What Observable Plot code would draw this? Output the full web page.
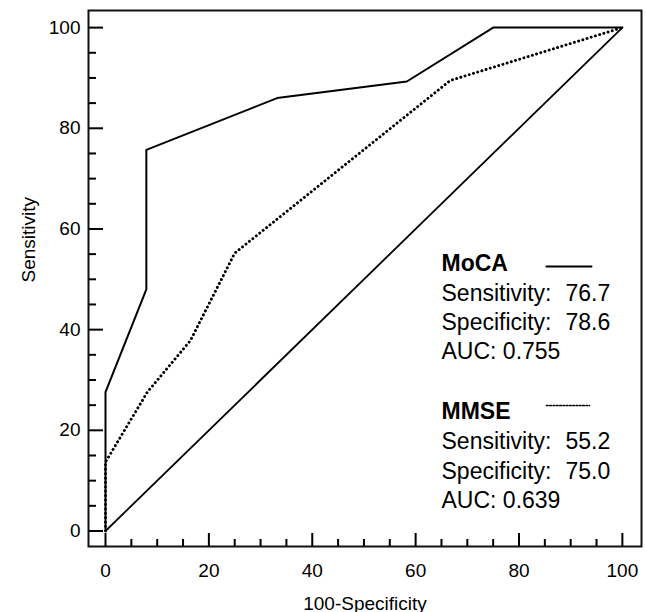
<!DOCTYPE html>
<html>
<head>
<meta charset="utf-8">
<script src="https://cdn.jsdelivr.net/npm/d3@7"></script>
<script src="https://cdn.jsdelivr.net/npm/@observablehq/plot@0.6"></script>
<style>
  body { margin: 0; background: #fff; }
  #chart svg { display: block; }
</style>
</head>
<body>
<div id="chart"></div>
<script>
// ROC curves (x = 100-Specificity, y = Sensitivity)
const mocaX = [0, 0, 7.9, 7.9, 33.2, 58.3, 75, 100];
const mocaY = [0, 27.6, 48, 75.7, 86, 89.3, 100, 100];
const mmseX = [0, 0, 8.1, 16.4, 25, 66.7, 100];
const mmseY = [0, 13.7, 27.6, 37.8, 55.2, 89.5, 100];
const refX = [0, 100];
const refY = [0, 100];

// axis ticks
const majorTicks = [0, 20, 40, 60, 80, 100];
const minorTicks = [5, 10, 15, 25, 30, 35, 45, 50, 55, 65, 70, 75, 85, 90, 95];

// legend text
const legendNames = ["MoCA", "MMSE"];
const statLabels = ["Sensitivity:", "Specificity:"];
const mocaStats = ["76.7", "78.6"];
const mmseStats = ["55.2", "75.0"];
const aucLabel = "AUC:";
const aucValues = ["0.755", "0.639"];

const W = 646, H = 612;
const mL = 88, mR = 5, mT = 10, mB = 66;
const frameW = W - mL - mR, frameH = H - mT - mB;

const toPts = (xs, ys) => xs.map((x, i) => ({x, y: ys[i]}));
const moca = toPts(mocaX, mocaY);
const mmse = toPts(mmseX, mmseY);
const ref = toPts(refX, refY);

const FONT = "'Liberation Sans', Arial, Helvetica, sans-serif";
const swatchShape = {draw(context, l) { context.moveTo(0, 0); context.lineTo(0, -l); }};

// legend layout (pixel baselines from the top of the svg)
const legendTextX = 441, legendValueX = 565, legendSwatchX = 546;
const groupBaselines = [[270, 300, 329, 358], [418, 448, 478, 507]];
const swatchY = [266, 405];
const stats = [mocaStats, mmseStats];
const LFS = 23;

const legendMarks = [];
legendNames.forEach((name, g) => {
  const rows = groupBaselines[g];
  legendMarks.push(Plot.text([name], {
    text: d => d, frameAnchor: "top-left", dx: legendTextX - mL, dy: rows[0] - mT,
    lineAnchor: "bottom", textAnchor: "start", fontSize: LFS, fontWeight: "bold", fill: "#000"
  }));
  statLabels.forEach((lab, r) => {
    legendMarks.push(Plot.text([lab], {
      text: d => d, frameAnchor: "top-left", dx: legendTextX - mL, dy: rows[r + 1] - mT,
      lineAnchor: "bottom", textAnchor: "start", fontSize: LFS, fill: "#000"
    }));
    legendMarks.push(Plot.text([stats[g][r]], {
      text: d => d, frameAnchor: "top-left", dx: legendValueX - mL, dy: rows[r + 1] - mT,
      lineAnchor: "bottom", textAnchor: "start", fontSize: LFS, fill: "#000"
    }));
  });
  legendMarks.push(Plot.text([aucValues[g]], {
    text: d => `${aucLabel} ${d}`, frameAnchor: "top-left", dx: legendTextX - mL, dy: rows[3] - mT,
    lineAnchor: "bottom", textAnchor: "start", fontSize: LFS, fill: "#000"
  }));
});
legendMarks.push(Plot.vector([legendNames[0]], {
  frameAnchor: "top-left", dx: legendSwatchX - mL, dy: swatchY[0] - mT,
  rotate: 90, length: 45, anchor: "start", shape: swatchShape,
  stroke: "#000", strokeWidth: 2
}));
legendMarks.push(Plot.vector([legendNames[1]], {
  frameAnchor: "top-left", dx: legendSwatchX - mL, dy: swatchY[1] - mT,
  rotate: 90, length: 43, anchor: "start", shape: swatchShape,
  stroke: "#000", strokeWidth: 1.7, strokeDasharray: "1.5 1.8"
}));

const plot = Plot.plot({
  width: W,
  height: H,
  marginLeft: mL,
  marginRight: mR,
  marginTop: mT,
  marginBottom: mB,
  style: {fontFamily: FONT, background: "#fff", color: "#000"},
  x: {domain: [-3.29, 103.7], label: null},
  y: {domain: [-3.08, 103.4], label: null},
  marks: [
    // tick labels
    Plot.axisY(majorTicks, {tickSize: 0, tickPadding: 8, fontSize: 19, label: null}),
    Plot.axisX(majorTicks, {tickSize: 0, tickPadding: 17, fontSize: 19, label: null}),
    // inward ticks
    Plot.tickY(majorTicks, {y: d => d, insetRight: frameW - 15, stroke: "#000", strokeWidth: 2}),
    Plot.tickY(minorTicks, {y: d => d, insetRight: frameW - 8, stroke: "#000", strokeWidth: 2}),
    Plot.tickX(majorTicks, {x: d => d, insetTop: frameH - 13, stroke: "#000", strokeWidth: 2}),
    Plot.tickX(minorTicks, {x: d => d, insetTop: frameH - 7, stroke: "#000", strokeWidth: 2}),
    // reference diagonal
    Plot.line(ref, {x: "x", y: "y", stroke: "#000", strokeWidth: 1.8}),
    // MMSE dotted
    Plot.line(mmse, {x: "x", y: "y", stroke: "#000", strokeWidth: 2.9,
      strokeDasharray: "0.1 4.3", strokeLinecap: "round"}),
    // MoCA solid
    Plot.line(moca, {x: "x", y: "y", stroke: "#000", strokeWidth: 2}),
    // frame
    Plot.frame({stroke: "#111", strokeWidth: 2}),
    // axis titles
    Plot.text(["100-Specificity"], {text: d => d, frameAnchor: "bottom", dy: 609 - (H - mB),
      lineAnchor: "bottom", fontSize: 19, fill: "#000"}),
    Plot.text(["Sensitivity"], {text: d => d, frameAnchor: "left", rotate: -90, dx: 34 - mL, dy: 4,
      lineAnchor: "bottom", fontSize: 19, fill: "#000"}),
    ...legendMarks
  ]
});

document.getElementById("chart").appendChild(plot);
</script>
</body>
</html>
